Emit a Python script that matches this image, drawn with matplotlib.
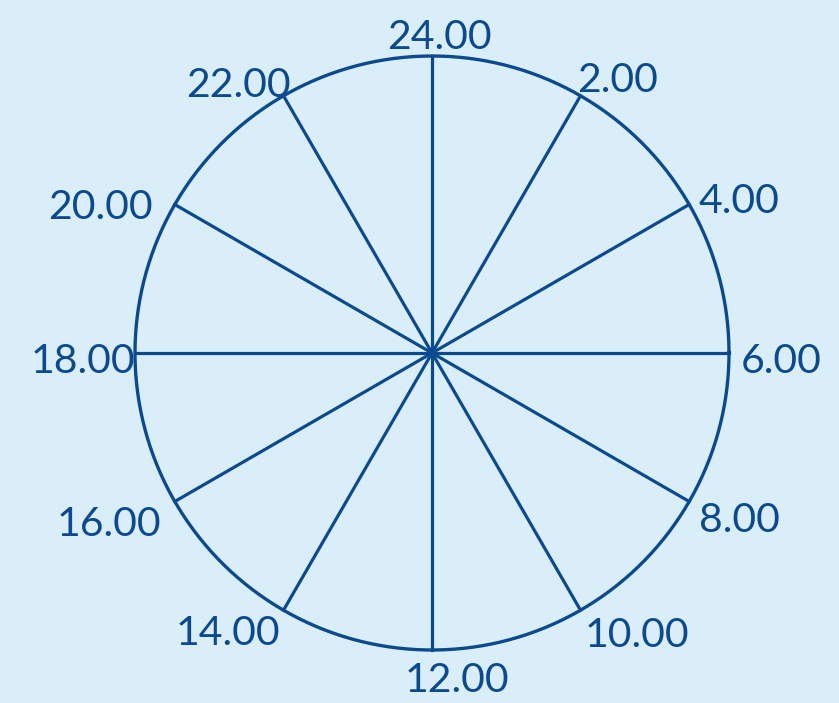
import numpy as np
import matplotlib.pyplot as plt

hours = [24, 2, 4, 6, 8, 10, 12, 14, 16, 18, 20, 22]
labels = ["24.00", "2.00", "4.00", "6.00", "8.00", "10.00",
          "12.00", "14.00", "16.00", "18.00", "20.00", "22.00"]

# where each label sits relative to the end of its spoke (pixels: right, up),
# label centre horizontally / baseline vertically
label_nudge_px = [(7, 7), (37, 4), (50, -8.5), (52, -20), (50, -30.5), (56, -37),
                  (24.5, -42), (-56, -35), (-66, -34.5), (-52.5, -20), (-74, -14.5), (-45, -1)]

bg = "#daeefa"
blue = "#0b4a8f"

fig = plt.figure(figsize=(8.39, 7.03), dpi=100, facecolor=bg)
ax = fig.add_axes([0, 0, 1, 1])
ax.set_facecolor(bg)

# clock angle: 24.00 at top, clockwise, 2 hours = 30 degrees
ang = np.deg2rad(90 - np.array(hours) % 24 * 15)

t = np.linspace(0, 2 * np.pi, 400)
ax.plot(np.cos(t), np.sin(t), color=blue, lw=2.4)

for a, lab, (dx, dy) in zip(ang, labels, label_nudge_px):
    c, s = np.cos(a), np.sin(a)
    ax.plot([0, c], [0, s], color=blue, lw=2.3)
    ax.annotate(lab, (c, s), xytext=(dx * 0.72, dy * 0.72), textcoords="offset points",
                ha="center", va="baseline", fontsize=29.5, color=blue, family="Lato")

ax.plot([0], [0], "o", color=blue, ms=6)

ax.set_xlim(-432 / 297, 407 / 297)
ax.set_ylim(-350 / 297, 353 / 297)
ax.set_aspect("equal")
ax.axis("off")

fig.savefig("out.png", dpi=100, facecolor=bg)
